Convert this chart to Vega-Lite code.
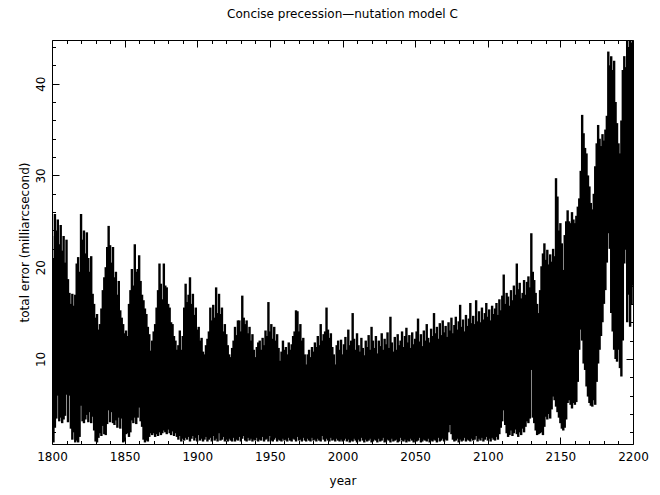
{
  "$schema": "https://vega.github.io/schema/vega-lite/v6.json",
  "width": 581,
  "height": 404,
  "autosize": "none",
  "padding": {"left": 52, "top": 40, "right": 27, "bottom": 51},
  "background": "white",
  "title": {"text": "Concise precession\u2014nutation model C", "font": "DejaVu Sans", "fontSize": 12, "fontWeight": "normal", "color": "black", "offset": 10, "anchor": "middle", "baseline": "alphabetic"},
  "config": {
    "view": {"stroke": "black", "strokeWidth": 1},
    "axis": {"domain": false, "grid": false, "labelFont": "DejaVu Sans", "labelFontSize": 12, "labelColor": "black", "titleFont": "DejaVu Sans", "titleFontSize": 12, "titleFontWeight": "normal", "titleColor": "black", "tickColor": "black", "tickWidth": 1}
  },
  "data": {"values": [
{"t":1800,"lo":1.2,"hi":23.4},{"t":1801,"lo":0.9,"hi":21.0},{"t":1802,"lo":2.5,"hi":25.8},{"t":1803,"lo":3.5,"hi":24.0},{"t":1804,"lo":6.0,"hi":25.2},
{"t":1805,"lo":3.2,"hi":22.5},{"t":1806,"lo":3.6,"hi":24.6},{"t":1807,"lo":3.0,"hi":21.8},{"t":1808,"lo":3.4,"hi":23.4},{"t":1809,"lo":3.8,"hi":20.5},
{"t":1810,"lo":6.1,"hi":23.0},{"t":1811,"lo":3.1,"hi":18.7},{"t":1812,"lo":6.0,"hi":17.2},{"t":1813,"lo":2.4,"hi":16.0},{"t":1814,"lo":1.2,"hi":17.1},
{"t":1815,"lo":2.0,"hi":15.8},{"t":1816,"lo":0.9,"hi":17.0},{"t":1817,"lo":1.1,"hi":20.4},{"t":1818,"lo":0.9,"hi":21.1},{"t":1819,"lo":1.5,"hi":19.5},
{"t":1820,"lo":4.9,"hi":25.8},{"t":1821,"lo":3.2,"hi":23.0},{"t":1822,"lo":3.0,"hi":24.0},{"t":1823,"lo":3.4,"hi":21.5},{"t":1824,"lo":3.9,"hi":23.8},
{"t":1825,"lo":3.1,"hi":21.0},{"t":1826,"lo":4.2,"hi":19.5},{"t":1827,"lo":3.0,"hi":21.2},{"t":1828,"lo":3.7,"hi":17.1},{"t":1829,"lo":2.2,"hi":16.0},
{"t":1830,"lo":1.0,"hi":14.5},{"t":1831,"lo":0.9,"hi":14.9},{"t":1832,"lo":1.4,"hi":13.2},{"t":1833,"lo":1.9,"hi":13.8},{"t":1834,"lo":1.6,"hi":15.5},
{"t":1835,"lo":2.7,"hi":17.5},{"t":1836,"lo":1.8,"hi":18.9},{"t":1837,"lo":1.7,"hi":20.0},{"t":1838,"lo":2.9,"hi":22.2},{"t":1839,"lo":4.4,"hi":24.5},
{"t":1840,"lo":3.1,"hi":22.4},{"t":1841,"lo":4.2,"hi":20.5},{"t":1842,"lo":3.0,"hi":22.2},{"t":1843,"lo":2.8,"hi":18.9},{"t":1844,"lo":3.3,"hi":19.5},
{"t":1845,"lo":2.5,"hi":17.0},{"t":1846,"lo":3.6,"hi":18.5},{"t":1847,"lo":2.4,"hi":15.3},{"t":1848,"lo":3.5,"hi":14.5},{"t":1849,"lo":0.9,"hi":13.8},
{"t":1850,"lo":1.0,"hi":12.8},{"t":1851,"lo":1.8,"hi":13.1},{"t":1852,"lo":1.9,"hi":12.5},{"t":1853,"lo":1.5,"hi":16.0},{"t":1854,"lo":2.0,"hi":17.5},
{"t":1855,"lo":3.3,"hi":19.8},{"t":1856,"lo":3.0,"hi":18.0},{"t":1857,"lo":3.6,"hi":22.5},{"t":1858,"lo":2.9,"hi":19.5},{"t":1859,"lo":3.6,"hi":19.8},
{"t":1860,"lo":4.7,"hi":21.3},{"t":1861,"lo":3.2,"hi":18.5},{"t":1862,"lo":2.6,"hi":17.0},{"t":1863,"lo":1.2,"hi":16.4},{"t":1864,"lo":0.9,"hi":15.5},
{"t":1865,"lo":1.1,"hi":14.9},{"t":1866,"lo":1.0,"hi":13.5},{"t":1867,"lo":1.5,"hi":12.7},{"t":1868,"lo":1.9,"hi":10.9},{"t":1869,"lo":1.7,"hi":12.0},
{"t":1870,"lo":1.9,"hi":13.0},{"t":1871,"lo":1.5,"hi":13.8},{"t":1872,"lo":1.8,"hi":15.6},{"t":1873,"lo":1.6,"hi":17.5},{"t":1874,"lo":2.0,"hi":20.4},
{"t":1875,"lo":1.7,"hi":18.2},{"t":1876,"lo":1.9,"hi":16.5},{"t":1877,"lo":2.2,"hi":20.4},{"t":1878,"lo":2.0,"hi":18.0},{"t":1879,"lo":1.8,"hi":17.8},
{"t":1880,"lo":2.3,"hi":16.0},{"t":1881,"lo":1.9,"hi":15.6},{"t":1882,"lo":1.7,"hi":14.0},{"t":1883,"lo":2.1,"hi":13.8},{"t":1884,"lo":1.6,"hi":12.5},
{"t":1885,"lo":1.9,"hi":12.0},{"t":1886,"lo":1.5,"hi":11.0},{"t":1887,"lo":1.2,"hi":11.5},{"t":1888,"lo":1.6,"hi":13.1},{"t":1889,"lo":1.0,"hi":11.0},
{"t":1890,"lo":1.3,"hi":12.5},{"t":1891,"lo":1.1,"hi":15.6},{"t":1892,"lo":1.4,"hi":18.2},{"t":1893,"lo":1.2,"hi":16.2},{"t":1894,"lo":1.5,"hi":17.0},
{"t":1895,"lo":1.0,"hi":18.9},{"t":1896,"lo":1.3,"hi":16.0},{"t":1897,"lo":1.6,"hi":17.1},{"t":1898,"lo":1.1,"hi":14.8},{"t":1899,"lo":1.4,"hi":15.6},
{"t":1900,"lo":1.0,"hi":13.2},{"t":1901,"lo":1.7,"hi":13.5},{"t":1902,"lo":1.1,"hi":12.0},{"t":1903,"lo":1.3,"hi":12.3},{"t":1904,"lo":1.0,"hi":10.8},
{"t":1905,"lo":1.2,"hi":10.5},{"t":1906,"lo":1.5,"hi":11.5},{"t":1907,"lo":1.0,"hi":12.2},{"t":1908,"lo":1.2,"hi":13.0},{"t":1909,"lo":1.4,"hi":15.6},
{"t":1910,"lo":1.0,"hi":14.2},{"t":1911,"lo":1.6,"hi":15.9},{"t":1912,"lo":1.1,"hi":14.5},{"t":1913,"lo":1.3,"hi":17.8},{"t":1914,"lo":1.0,"hi":15.0},
{"t":1915,"lo":1.9,"hi":17.1},{"t":1916,"lo":1.1,"hi":14.9},{"t":1917,"lo":1.2,"hi":15.6},{"t":1918,"lo":1.5,"hi":13.0},{"t":1919,"lo":1.0,"hi":13.8},
{"t":1920,"lo":1.2,"hi":12.7},{"t":1921,"lo":1.0,"hi":11.5},{"t":1922,"lo":1.3,"hi":10.5},{"t":1923,"lo":1.1,"hi":10.2},{"t":1924,"lo":1.0,"hi":11.2},
{"t":1925,"lo":1.4,"hi":12.0},{"t":1926,"lo":1.0,"hi":13.5},{"t":1927,"lo":1.2,"hi":12.6},{"t":1928,"lo":1.1,"hi":14.2},{"t":1929,"lo":1.5,"hi":14.2},
{"t":1930,"lo":1.0,"hi":13.0},{"t":1931,"lo":1.3,"hi":16.9},{"t":1932,"lo":1.6,"hi":14.5},{"t":1933,"lo":1.1,"hi":13.8},{"t":1934,"lo":1.0,"hi":14.2},
{"t":1935,"lo":1.4,"hi":12.8},{"t":1936,"lo":1.1,"hi":13.5},{"t":1937,"lo":1.3,"hi":12.0},{"t":1938,"lo":1.0,"hi":12.7},{"t":1939,"lo":1.2,"hi":11.0},
{"t":1940,"lo":1.1,"hi":10.2},{"t":1941,"lo":1.4,"hi":11.3},{"t":1942,"lo":1.0,"hi":11.8},{"t":1943,"lo":1.2,"hi":12.0},{"t":1944,"lo":1.1,"hi":11.0},
{"t":1945,"lo":1.5,"hi":12.3},{"t":1946,"lo":1.0,"hi":11.5},{"t":1947,"lo":1.2,"hi":13.1},{"t":1948,"lo":1.3,"hi":12.5},{"t":1949,"lo":1.0,"hi":16.2},
{"t":1950,"lo":1.6,"hi":13.0},{"t":1951,"lo":1.1,"hi":13.8},{"t":1952,"lo":1.0,"hi":12.2},{"t":1953,"lo":1.2,"hi":13.5},{"t":1954,"lo":1.4,"hi":12.0},
{"t":1955,"lo":1.0,"hi":12.7},{"t":1956,"lo":1.2,"hi":11.2},{"t":1957,"lo":1.1,"hi":9.8},{"t":1958,"lo":1.0,"hi":10.8},{"t":1959,"lo":1.3,"hi":12.0},
{"t":1960,"lo":1.1,"hi":11.0},{"t":1961,"lo":1.2,"hi":11.3},{"t":1962,"lo":1.0,"hi":10.5},{"t":1963,"lo":1.4,"hi":11.8},{"t":1964,"lo":1.1,"hi":11.0},
{"t":1965,"lo":1.0,"hi":11.6},{"t":1966,"lo":1.3,"hi":12.5},{"t":1967,"lo":1.2,"hi":13.0},{"t":1968,"lo":1.0,"hi":15.3},{"t":1969,"lo":1.5,"hi":15.2},
{"t":1970,"lo":1.1,"hi":13.0},{"t":1971,"lo":1.2,"hi":13.8},{"t":1972,"lo":1.0,"hi":12.0},{"t":1973,"lo":1.4,"hi":12.3},{"t":1974,"lo":1.1,"hi":10.5},
{"t":1975,"lo":1.0,"hi":9.4},{"t":1976,"lo":1.3,"hi":10.5},{"t":1977,"lo":1.1,"hi":11.0},{"t":1978,"lo":1.0,"hi":10.2},{"t":1979,"lo":1.4,"hi":11.3},
{"t":1980,"lo":1.1,"hi":10.8},{"t":1981,"lo":1.2,"hi":11.8},{"t":1982,"lo":1.0,"hi":11.3},{"t":1983,"lo":1.3,"hi":12.5},{"t":1984,"lo":1.1,"hi":11.5},
{"t":1985,"lo":1.0,"hi":13.8},{"t":1986,"lo":1.6,"hi":12.0},{"t":1987,"lo":1.2,"hi":12.7},{"t":1988,"lo":1.0,"hi":13.0},{"t":1989,"lo":1.3,"hi":15.6},
{"t":1990,"lo":1.1,"hi":13.2},{"t":1991,"lo":1.0,"hi":12.3},{"t":1992,"lo":1.4,"hi":12.8},{"t":1993,"lo":1.1,"hi":11.3},{"t":1994,"lo":1.2,"hi":10.5},
{"t":1995,"lo":1.0,"hi":9.4},{"t":1996,"lo":1.3,"hi":11.5},{"t":1997,"lo":1.1,"hi":12.0},{"t":1998,"lo":1.0,"hi":11.0},{"t":1999,"lo":1.2,"hi":12.1},
{"t":2000,"lo":1.0,"hi":10.5},{"t":2001,"lo":1.1,"hi":11.6},{"t":2002,"lo":1.3,"hi":12.4},{"t":2003,"lo":1.0,"hi":11.0},{"t":2004,"lo":1.2,"hi":13.2},
{"t":2005,"lo":0.9,"hi":11.5},{"t":2006,"lo":1.1,"hi":12.0},{"t":2007,"lo":1.0,"hi":15.0},{"t":2008,"lo":1.3,"hi":12.2},{"t":2009,"lo":1.1,"hi":11.0},
{"t":2010,"lo":0.9,"hi":12.8},{"t":2011,"lo":1.2,"hi":11.5},{"t":2012,"lo":1.0,"hi":10.8},{"t":2013,"lo":1.4,"hi":12.3},{"t":2014,"lo":1.1,"hi":11.2},
{"t":2015,"lo":0.9,"hi":10.4},{"t":2016,"lo":1.2,"hi":12.0},{"t":2017,"lo":1.0,"hi":11.3},{"t":2018,"lo":1.1,"hi":12.6},{"t":2019,"lo":1.3,"hi":11.0},
{"t":2020,"lo":0.9,"hi":13.5},{"t":2021,"lo":1.0,"hi":12.0},{"t":2022,"lo":1.2,"hi":11.2},{"t":2023,"lo":1.1,"hi":12.5},{"t":2024,"lo":0.9,"hi":10.6},
{"t":2025,"lo":1.3,"hi":12.0},{"t":2026,"lo":1.0,"hi":11.4},{"t":2027,"lo":1.1,"hi":12.8},{"t":2028,"lo":1.4,"hi":11.0},{"t":2029,"lo":0.9,"hi":12.2},
{"t":2030,"lo":1.0,"hi":11.6},{"t":2031,"lo":1.2,"hi":12.9},{"t":2032,"lo":1.1,"hi":11.2},{"t":2033,"lo":0.9,"hi":14.6},{"t":2034,"lo":1.3,"hi":11.8},
{"t":2035,"lo":1.0,"hi":10.8},{"t":2036,"lo":1.1,"hi":12.4},{"t":2037,"lo":1.2,"hi":11.0},{"t":2038,"lo":0.9,"hi":12.7},{"t":2039,"lo":1.0,"hi":11.5},
{"t":2040,"lo":1.4,"hi":12.0},{"t":2041,"lo":1.1,"hi":13.0},{"t":2042,"lo":1.0,"hi":11.3},{"t":2043,"lo":1.2,"hi":12.5},{"t":2044,"lo":0.9,"hi":13.4},
{"t":2045,"lo":1.1,"hi":11.8},{"t":2046,"lo":1.0,"hi":12.6},{"t":2047,"lo":1.3,"hi":11.2},{"t":2048,"lo":1.1,"hi":12.9},{"t":2049,"lo":0.9,"hi":11.6},
{"t":2050,"lo":1.2,"hi":12.2},{"t":2051,"lo":1.0,"hi":13.0},{"t":2052,"lo":1.1,"hi":14.4},{"t":2053,"lo":1.4,"hi":11.9},{"t":2054,"lo":0.9,"hi":12.7},
{"t":2055,"lo":1.0,"hi":11.4},{"t":2056,"lo":1.2,"hi":13.1},{"t":2057,"lo":1.1,"hi":12.0},{"t":2058,"lo":1.0,"hi":13.8},{"t":2059,"lo":1.3,"hi":12.3},
{"t":2060,"lo":0.9,"hi":11.8},{"t":2061,"lo":1.1,"hi":13.3},{"t":2062,"lo":1.0,"hi":12.5},{"t":2063,"lo":1.2,"hi":15.0},{"t":2064,"lo":1.1,"hi":12.8},
{"t":2065,"lo":0.9,"hi":13.5},{"t":2066,"lo":1.4,"hi":12.2},{"t":2067,"lo":1.0,"hi":13.9},{"t":2068,"lo":1.1,"hi":12.6},{"t":2069,"lo":1.3,"hi":14.2},
{"t":2070,"lo":1.0,"hi":12.9},{"t":2071,"lo":1.2,"hi":13.6},{"t":2072,"lo":1.1,"hi":12.4},{"t":2073,"lo":2.0,"hi":14.0},{"t":2074,"lo":2.8,"hi":13.1},
{"t":2075,"lo":1.8,"hi":14.5},{"t":2076,"lo":1.2,"hi":12.8},{"t":2077,"lo":1.0,"hi":13.7},{"t":2078,"lo":1.1,"hi":14.6},{"t":2079,"lo":1.3,"hi":13.2},
{"t":2080,"lo":0.9,"hi":14.1},{"t":2081,"lo":1.2,"hi":15.9},{"t":2082,"lo":1.0,"hi":13.5},{"t":2083,"lo":1.1,"hi":14.3},{"t":2084,"lo":1.4,"hi":13.0},
{"t":2085,"lo":1.0,"hi":14.8},{"t":2086,"lo":1.2,"hi":13.6},{"t":2087,"lo":1.1,"hi":14.4},{"t":2088,"lo":1.0,"hi":16.1},{"t":2089,"lo":1.3,"hi":13.9},
{"t":2090,"lo":1.1,"hi":14.7},{"t":2091,"lo":1.2,"hi":13.8},{"t":2092,"lo":1.6,"hi":16.4},{"t":2093,"lo":1.0,"hi":14.1},{"t":2094,"lo":1.3,"hi":15.2},
{"t":2095,"lo":1.1,"hi":14.0},{"t":2096,"lo":1.4,"hi":15.6},{"t":2097,"lo":1.0,"hi":14.3},{"t":2098,"lo":1.2,"hi":15.0},{"t":2099,"lo":1.5,"hi":16.1},
{"t":2100,"lo":1.1,"hi":14.6},{"t":2101,"lo":1.3,"hi":15.4},{"t":2102,"lo":1.0,"hi":14.2},{"t":2103,"lo":1.4,"hi":15.8},{"t":2104,"lo":1.2,"hi":14.9},
{"t":2105,"lo":1.1,"hi":15.5},{"t":2106,"lo":1.5,"hi":16.1},{"t":2107,"lo":1.2,"hi":14.8},{"t":2108,"lo":1.8,"hi":16.5},{"t":2109,"lo":2.5,"hi":15.3},
{"t":2110,"lo":3.2,"hi":16.9},{"t":2111,"lo":4.4,"hi":19.2},{"t":2112,"lo":2.8,"hi":16.0},{"t":2113,"lo":1.9,"hi":17.2},{"t":2114,"lo":1.5,"hi":16.8},
{"t":2115,"lo":1.7,"hi":15.8},{"t":2116,"lo":2.2,"hi":17.5},{"t":2117,"lo":1.6,"hi":16.4},{"t":2118,"lo":1.9,"hi":18.0},{"t":2119,"lo":2.3,"hi":17.0},
{"t":2120,"lo":1.8,"hi":20.4},{"t":2121,"lo":1.5,"hi":17.6},{"t":2122,"lo":2.0,"hi":18.3},{"t":2123,"lo":1.7,"hi":16.6},{"t":2124,"lo":2.4,"hi":17.2},
{"t":2125,"lo":2.0,"hi":18.6},{"t":2126,"lo":2.6,"hi":17.0},{"t":2127,"lo":3.2,"hi":18.4},{"t":2128,"lo":3.0,"hi":19.0},{"t":2129,"lo":3.5,"hi":17.8},
{"t":2130,"lo":8.8,"hi":23.7},{"t":2131,"lo":3.6,"hi":19.5},{"t":2132,"lo":3.0,"hi":18.6},{"t":2133,"lo":2.2,"hi":17.2},{"t":2134,"lo":1.7,"hi":16.0},
{"t":2135,"lo":1.8,"hi":15.0},{"t":2136,"lo":1.9,"hi":17.5},{"t":2137,"lo":2.0,"hi":20.1},{"t":2138,"lo":1.7,"hi":21.5},{"t":2139,"lo":2.6,"hi":22.6},
{"t":2140,"lo":3.7,"hi":20.8},{"t":2141,"lo":3.4,"hi":21.9},{"t":2142,"lo":4.0,"hi":20.3},{"t":2143,"lo":3.5,"hi":21.4},{"t":2144,"lo":4.5,"hi":20.6},
{"t":2145,"lo":5.9,"hi":22.0},{"t":2146,"lo":5.5,"hi":21.2},{"t":2147,"lo":4.8,"hi":29.7},{"t":2148,"lo":4.2,"hi":27.7},{"t":2149,"lo":3.6,"hi":24.0},
{"t":2150,"lo":3.0,"hi":24.8},{"t":2151,"lo":2.4,"hi":22.6},{"t":2152,"lo":2.2,"hi":19.7},{"t":2153,"lo":2.5,"hi":23.5},{"t":2154,"lo":3.4,"hi":25.0},
{"t":2155,"lo":5.2,"hi":26.2},{"t":2156,"lo":5.5,"hi":25.0},{"t":2157,"lo":5.0,"hi":24.8},{"t":2158,"lo":4.6,"hi":26.0},{"t":2159,"lo":5.2,"hi":25.2},
{"t":2160,"lo":5.0,"hi":24.8},{"t":2161,"lo":5.3,"hi":25.6},{"t":2162,"lo":7.5,"hi":26.6},{"t":2163,"lo":11.0,"hi":27.5},{"t":2164,"lo":13.2,"hi":30.5},
{"t":2165,"lo":12.0,"hi":36.6},{"t":2166,"lo":9.5,"hi":34.6},{"t":2167,"lo":8.8,"hi":33.0},{"t":2168,"lo":7.0,"hi":32.4},{"t":2169,"lo":5.9,"hi":30.0},
{"t":2170,"lo":5.2,"hi":28.8},{"t":2171,"lo":4.9,"hi":27.0},{"t":2172,"lo":4.8,"hi":26.3},{"t":2173,"lo":5.5,"hi":28.0},{"t":2174,"lo":5.0,"hi":31.0},
{"t":2175,"lo":7.5,"hi":33.5},{"t":2176,"lo":9.5,"hi":35.5},{"t":2177,"lo":11.0,"hi":34.0},{"t":2178,"lo":12.5,"hi":33.2},{"t":2179,"lo":14.0,"hi":34.5},
{"t":2180,"lo":16.0,"hi":33.8},{"t":2181,"lo":17.5,"hi":35.0},{"t":2182,"lo":20.5,"hi":36.5},{"t":2183,"lo":23.7,"hi":43.5},{"t":2184,"lo":22.0,"hi":42.0},
{"t":2185,"lo":15.0,"hi":43.0},{"t":2186,"lo":13.0,"hi":41.5},{"t":2187,"lo":11.0,"hi":42.5},{"t":2188,"lo":10.0,"hi":38.0},{"t":2189,"lo":9.7,"hi":35.7},
{"t":2190,"lo":11.0,"hi":33.5},{"t":2191,"lo":9.0,"hi":32.4},{"t":2192,"lo":8.1,"hi":36.0},{"t":2193,"lo":12.0,"hi":41.5},{"t":2194,"lo":20.4,"hi":43.0},
{"t":2195,"lo":21.9,"hi":41.8},{"t":2196,"lo":14.0,"hi":45.0},{"t":2197,"lo":17.0,"hi":44.0},{"t":2198,"lo":13.5,"hi":45.0},{"t":2199,"lo":16.0,"hi":44.5},
{"t":2200,"lo":18.0,"hi":45.0}
  ]},
  "layer": [
    {
      "mark": {"type": "rule", "color": "black", "strokeWidth": 2.4, "clip": true},
      "encoding": {
        "x": {"field": "t", "type": "quantitative", "scale": {"domain": [1800, 2200], "nice": false, "zero": false},
              "axis": {"orient": "bottom", "title": "year", "values": [1800,1810,1820,1830,1840,1850,1860,1870,1880,1890,1900,1910,1920,1930,1940,1950,1960,1970,1980,1990,2000,2010,2020,2030,2040,2050,2060,2070,2080,2090,2100,2110,2120,2130,2140,2150,2160,2170,2180,2190,2200],
                       "format": "d", "labelExpr": "datum.value % 50 === 0 ? datum.label : ''",
                       "tickSize": {"condition": {"test": "datum.value % 50 === 0", "value": -7}, "value": -3.5},
                       "labelPadding": 14, "labelFlush": false, "labelOverlap": false, "titlePadding": 10}},
        "y": {"field": "lo", "type": "quantitative", "scale": {"domain": [0.73, 44.76], "nice": false, "zero": false},
              "axis": {"orient": "left", "title": "total error (milliarcsecond)", "values": [2,4,6,8,10,12,14,16,18,20,22,24,26,28,30,32,34,36,38,40,42,44],
                       "labelExpr": "datum.value % 10 === 0 ? datum.label : ''",
                       "tickSize": {"condition": {"test": "datum.value % 10 === 0", "value": -7}, "value": -3.5},
                       "labelAngle": -90, "labelPadding": 12, "labelFlush": false, "labelOverlap": false, "titlePadding": -1}},
        "y2": {"field": "hi"}
      }
    },
    {
      "mark": {"type": "rule", "strokeOpacity": 0, "clip": true},
      "encoding": {
        "x": {"field": "t", "type": "quantitative", "scale": {"domain": [1800, 2200], "nice": false, "zero": false},
              "axis": {"orient": "top", "title": null, "labels": false, "values": [1800,1810,1820,1830,1840,1850,1860,1870,1880,1890,1900,1910,1920,1930,1940,1950,1960,1970,1980,1990,2000,2010,2020,2030,2040,2050,2060,2070,2080,2090,2100,2110,2120,2130,2140,2150,2160,2170,2180,2190,2200],
                       "tickSize": {"condition": {"test": "datum.value % 50 === 0", "value": -7}, "value": -3.5}}},
        "y": {"field": "lo", "type": "quantitative", "scale": {"domain": [0.73, 44.76], "nice": false, "zero": false},
              "axis": {"orient": "right", "title": null, "labels": false, "values": [2,4,6,8,10,12,14,16,18,20,22,24,26,28,30,32,34,36,38,40,42,44],
                       "tickSize": {"condition": {"test": "datum.value % 10 === 0", "value": -7}, "value": -3.5}}},
        "y2": {"field": "hi"}
      }
    }
  ],
  "resolve": {"axis": {"x": "independent", "y": "independent"}}
}
